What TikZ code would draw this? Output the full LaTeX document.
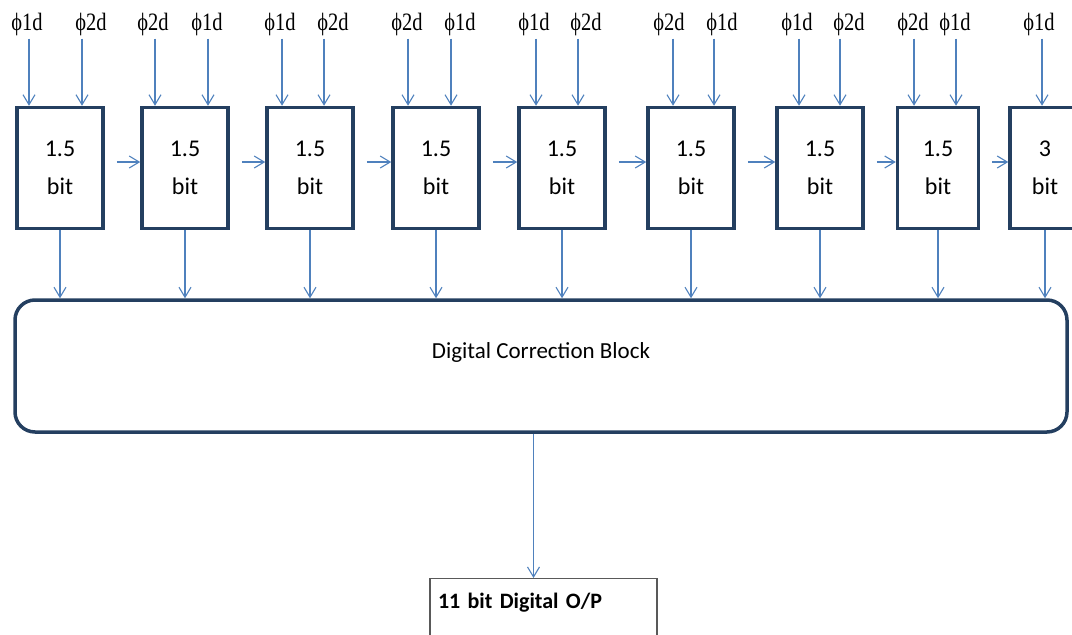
\documentclass[tikz,border=0pt]{standalone}
\usepackage{fontspec}
\setmainfont{Carlito}
\newfontfamily\phasefont{Liberation Serif}[FakeStretch=0.82]
\usetikzlibrary{arrows.meta}
\definecolor{navy}{HTML}{243F60}
\definecolor{wireblue}{HTML}{4F81BD}

\begin{document}
\begin{tikzpicture}[x=1pt,y=-1pt,
    stage/.style={shape=rectangle,draw=navy,line width=3.5pt,minimum width=86pt,minimum height=121pt,align=center,font=\fontsize{24}{38}\selectfont},
    phase/.style={anchor=base,inner sep=3pt,font=\phasefont\fontsize{25}{25}\selectfont},
    wire/.style={-{Straight Barb[length=10pt,width=12pt]},draw=wireblue,line width=1.1pt}]
    \useasboundingbox (0,0) rectangle (1072,635);
    \clip (0,0) rectangle (1072,635);
    % pipeline stages
    \node[stage] (S1) at (60,168) {1.5\\bit};
    \node[stage] (S2) at (185,168) {1.5\\bit};
    \node[stage] (S3) at (310,168) {1.5\\bit};
    \node[stage] (S4) at (436,168) {1.5\\bit};
    \node[stage] (S5) at (562,168) {1.5\\bit};
    \node[stage] (S6) at (691,168) {1.5\\bit};
    \node[stage] (S7) at (820,168) {1.5\\bit};
    \node[stage,minimum width=81pt] (S8) at (938,168) {1.5\\bit};
    \node[stage,minimum width=70pt] (S9) at (1045,168) {3\\bit};
    % clock phases
    \foreach \name/\lx/\ax/\ph/\blk in {P1a/27/29/1/S1, P1b/91/82/2/S1, P2a/153/155/2/S2, P2b/207/208/1/S2,
        P3a/280/282/1/S3, P3b/333/324/2/S3, P4a/407/408/2/S4, P4b/460/451/1/S4,
        P5a/534/536/1/S5, P5b/586/578/2/S5, P6a/669/673/2/S6, P6b/722/714/1/S6,
        P7a/797/799/1/S7, P7b/849/840/2/S7, P8a/913/914/2/S8, P8b/955/956/1/S8, P9a/1039/1042/1/S9}{
        \pgfmathsetmacro{\dx}{\ax-\lx}
        \node[phase] (\name) at (\lx,30) {ϕ\ph d};
        \draw[wire] ([xshift=\dx pt]\name.south) -- ([xshift=\dx pt]\name.south |- \blk.north);
    }
    \foreach \a/\b in {S1/S2,S2/S3,S3/S4,S4/S5,S5/S6,S6/S7,S7/S8,S8/S9}
        \draw[wire] ([xshift=12pt,yshift=6pt]\a.east) -- ([yshift=6pt]\b.west);
    % correction and output
    \node[shape=rectangle,rounded corners=20pt,draw=navy,line width=3.5pt,minimum width=1052pt,minimum height=132pt,
        text height=16pt,text depth=32pt,font=\fontsize{23}{23}\selectfont] (DCB) at (541,366) {Digital Correction Block};
    \foreach \s in {S1,S2,S3,S4,S5,S6,S7,S8,S9}
        \draw[wire] (\s.south) -- (\s.south |- DCB.north);
    \node[anchor=north,draw=black!65,line width=1.2pt,text width=211pt,inner xsep=8pt,inner ysep=14pt,
        text depth=60pt,font=\bfseries\fontsize{22}{22}\selectfont] (OUT) at (543.5,578) {11 bit Digital O/P};
    \draw[wire] ([xshift=-10pt]OUT.north |- DCB.south) -- ([xshift=-10pt]OUT.north);
\end{tikzpicture}
\end{document}
